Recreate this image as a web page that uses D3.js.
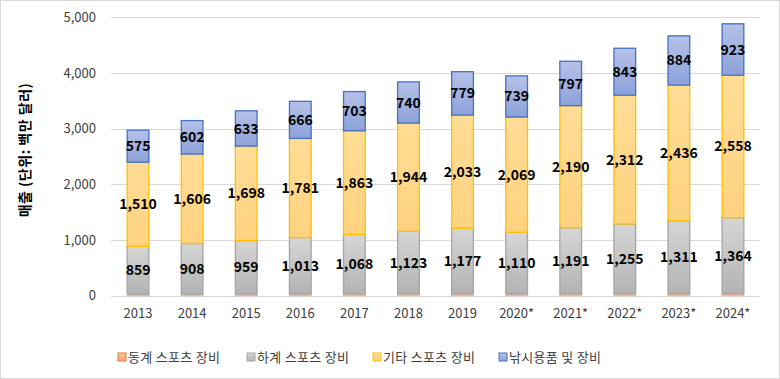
<!DOCTYPE html>
<html><head><meta charset="utf-8">
<script src="https://cdn.jsdelivr.net/npm/d3@7"></script>
<style>
html,body{margin:0;padding:0;background:#fff;}
svg{display:block;font-family:"Noto Sans CJK KR","Noto Sans",sans-serif;}
</style></head>
<body>
<script>
const categories = ["2013","2014","2015","2016","2017","2018","2019","2020*","2021*","2022*","2023*","2024*"];
const winterSports = [28,29,30,31,32,33,34,30,32,34,36,38];
const summerSports = [859,908,959,1013,1068,1123,1177,1110,1191,1255,1311,1364];
const otherSports = [1510,1606,1698,1781,1863,1944,2033,2069,2190,2312,2436,2558];
const fishing = [575,602,633,666,703,740,779,739,797,843,884,923];
const seriesNames = ["동계 스포츠 장비","하계 스포츠 장비","기타 스포츠 장비","낚시용품 및 장비"];
const yTicks = [0,1000,2000,3000,4000,5000];
const yTitle = "매출 (단위: 백만 달러)";

const W = 780, H = 379;
const margin = {left:111, right:20, top:17.3, bottom:83.3};
const svg = d3.select("body").append("svg").attr("width",W).attr("height",H);

const styles = [
  {id:"gW", top:"#f8c3a0", bot:"#f4a97c", stroke:"#f4b183", label:false},
  {id:"gS", top:"#d6d6d6", bot:"#b3b3b3", stroke:"#a5a5a5", label:true},
  {id:"gO", top:"#ffdd96", bot:"#ffd27f", stroke:"#ffc000", label:true},
  {id:"gF", top:"#b5c1e8", bot:"#8da2d9", stroke:"#4472c4", label:true}
];
const defs = svg.append("defs");
styles.forEach(s=>{
  const g = defs.append("linearGradient").attr("id",s.id).attr("x1",0).attr("y1",0).attr("x2",0).attr("y2",1);
  g.append("stop").attr("offset","0%").attr("stop-color",s.top);
  g.append("stop").attr("offset","100%").attr("stop-color",s.bot);
});

svg.append("rect").attr("x",0.5).attr("y",0.5).attr("width",W-1).attr("height",H-1)
  .attr("fill","#fff").attr("stroke","#d9d9d9");

const x = d3.scaleBand().domain(categories).range([margin.left, W-margin.right]).paddingInner(0.58).paddingOuter(0.29);
const y = d3.scaleLinear().domain([0,5000]).range([H-margin.bottom, margin.top]);

// gridlines
svg.append("g").selectAll("line").data(yTicks).join("line")
  .attr("x1",margin.left).attr("x2",W-margin.right)
  .attr("y1",d=>Math.round(y(d))+0.5).attr("y2",d=>Math.round(y(d))+0.5)
  .attr("stroke","#d9d9d9").attr("stroke-width",1);

// y axis labels
const yAxis = d3.axisLeft(y).tickValues(yTicks).tickFormat(d3.format(",")).tickSize(0).tickPadding(15);
const ya = svg.append("g").attr("transform",`translate(${margin.left},0)`).call(yAxis);
ya.select(".domain").remove();
ya.selectAll("text").attr("font-size",13).attr("fill","#404040").attr("font-family","'Noto Sans CJK KR',sans-serif");

// x axis labels
const xAxis = d3.axisBottom(x).tickSize(0).tickPadding(13);
const xa = svg.append("g").attr("transform",`translate(0,${y(0)})`).call(xAxis);
xa.select(".domain").remove();
xa.selectAll("text").attr("font-size",13).attr("fill","#404040").attr("font-family","'Noto Sans CJK KR',sans-serif");

// stack
const rows = categories.map((c,i)=>({cat:c, w:winterSports[i], s:summerSports[i], o:otherSports[i], f:fishing[i]}));
const keys = ["w","s","o","f"];
const stacked = d3.stack().keys(keys)(rows);

stacked.forEach((layer,li)=>{
  const st = styles[li];
  const g = svg.append("g");
  g.selectAll("rect").data(layer).join("rect")
    .attr("x",d=>x(d.data.cat)+0.5)
    .attr("width",x.bandwidth()-1)
    .attr("y",d=>y(d[1]))
    .attr("height",d=>Math.max(0.5,y(d[0])-y(d[1])))
    .attr("fill",`url(#${st.id})`)
    .attr("stroke",st.stroke).attr("stroke-width",li===0?0.8:1.3);
  if(st.label){
    g.selectAll("text").data(layer).join("text")
      .attr("x",d=>x(d.data.cat)+x.bandwidth()/2)
      .attr("y",d=>(y(d[0])+y(d[1]))/2)
      .attr("dy","0.36em")
      .attr("text-anchor","middle")
      .attr("font-size",14).attr("font-weight","bold").attr("fill","#000")
      .text(d=>d3.format(",")(d[1]-d[0]));
  }
});

// y title
svg.append("text").attr("transform",`translate(30,150) rotate(-90)`)
  .attr("text-anchor","middle").attr("font-size",14).attr("font-weight","bold").attr("fill","#000")
  .attr("letter-spacing","0.5px")
  .text(yTitle);

// legend
const legX = [118,247,373,499];
const leg = svg.append("g");
seriesNames.forEach((n,i)=>{
  const st = styles[i];
  leg.append("rect").attr("x",legX[i]).attr("y",353).attr("width",8).attr("height",8)
    .attr("fill",`url(#${st.id})`).attr("stroke",i===0?"#ed7d31":st.stroke).attr("stroke-width",1);
  leg.append("text").attr("x",legX[i]+10).attr("y",357).attr("dy","0.36em")
    .attr("font-size",13).attr("letter-spacing","0.3px").attr("fill","#404040").text(n);
});
</script>
</body></html>
